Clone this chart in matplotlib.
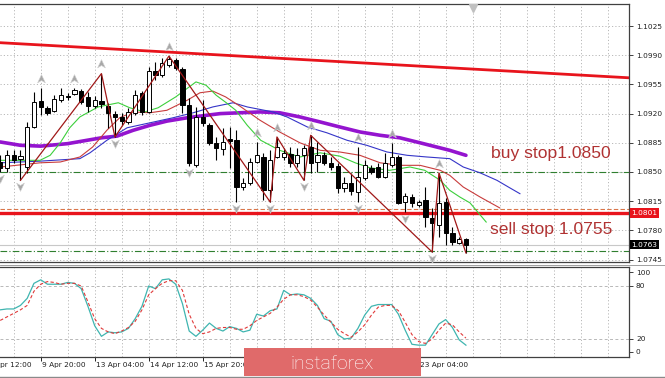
import matplotlib
matplotlib.use("Agg")
import matplotlib.pyplot as plt
import matplotlib.transforms as mtransforms
from matplotlib.patches import Rectangle
from matplotlib.lines import Line2D
from matplotlib.path import Path
import numpy as np

# EURUSD H4 candles, bar index 2..71 (bar 0 = 8 Apr 12:00)
bar_idx = np.arange(2, 72)
opens = np.array([
    1.0862, 1.0855, 1.0870, 1.0866, 1.0856, 1.0904, 1.0935, 1.0927, 1.0923, 1.0936,
    1.0941, 1.0944, 1.0947, 1.0940, 1.0929, 1.0935, 1.0929, 1.0920, 1.0916, 1.0910,
    1.0921, 1.0945, 1.0922, 1.0971, 1.0966, 1.0978, 1.0984, 1.0974, 1.0930, 1.0858,
    1.0916, 1.0906, 1.0885, 1.0878, 1.0890, 1.0888, 1.0832, 1.0837, 1.0862, 1.0868,
    1.0828, 1.0868, 1.0868, 1.0872, 1.0861, 1.0870, 1.0880, 1.0862, 1.0870, 1.0861,
    1.0857, 1.0831, 1.0837, 1.0826, 1.0843, 1.0855, 1.0856, 1.0844, 1.0858, 1.0868,
    1.0814, 1.0820, 1.0810, 1.0816, 1.0795, 1.0787, 1.0814, 1.0777, 1.0765, 1.0770])
highs = np.array([
    1.0870, 1.0876, 1.0876, 1.0876, 1.0910, 1.0946, 1.0951, 1.0929, 1.0942, 1.0951,
    1.0945, 1.0951, 1.0950, 1.0946, 1.0941, 1.0968, 1.0933, 1.0923, 1.0921, 1.0927,
    1.0948, 1.0947, 1.0976, 1.0982, 1.0987, 1.0989, 1.0987, 1.0976, 1.0939, 1.0928,
    1.0936, 1.0909, 1.0892, 1.0903, 1.0904, 1.0900, 1.0843, 1.0867, 1.0886, 1.0873,
    1.0876, 1.0892, 1.0879, 1.0880, 1.0879, 1.0882, 1.0894, 1.0886, 1.0874, 1.0868,
    1.0861, 1.0844, 1.0849, 1.0880, 1.0864, 1.0858, 1.0861, 1.0873, 1.0885, 1.0870,
    1.0825, 1.0824, 1.0816, 1.0832, 1.0807, 1.0849, 1.0819, 1.0784, 1.0772, 1.0771])
lows = np.array([
    1.0850, 1.0850, 1.0861, 1.0840, 1.0849, 1.0903, 1.0918, 1.0918, 1.0922, 1.0934,
    1.0936, 1.0942, 1.0932, 1.0922, 1.0927, 1.0927, 1.0903, 1.0892, 1.0906, 1.0908,
    1.0918, 1.0918, 1.0921, 1.0960, 1.0964, 1.0976, 1.0972, 1.0921, 1.0857, 1.0856,
    1.0905, 1.0882, 1.0864, 1.0870, 1.0855, 1.0814, 1.0828, 1.0834, 1.0861, 1.0816,
    1.0814, 1.0867, 1.0864, 1.0856, 1.0856, 1.0840, 1.0849, 1.0850, 1.0858, 1.0852,
    1.0825, 1.0826, 1.0822, 1.0814, 1.0840, 1.0848, 1.0843, 1.0843, 1.0856, 1.0812,
    1.0802, 1.0808, 1.0808, 1.0784, 1.0754, 1.0772, 1.0763, 1.0763, 1.0764, 1.0753])
closes = np.array([
    1.0855, 1.0870, 1.0864, 1.0869, 1.0904, 1.0934, 1.0928, 1.0921, 1.0938, 1.0942,
    1.0940, 1.0948, 1.0934, 1.0929, 1.0936, 1.0932, 1.0921, 1.0916, 1.0911, 1.0922,
    1.0942, 1.0922, 1.0971, 1.0966, 1.0981, 1.0985, 1.0975, 1.0930, 1.0861, 1.0916,
    1.0909, 1.0885, 1.0879, 1.0886, 1.0887, 1.0832, 1.0837, 1.0862, 1.0870, 1.0828,
    1.0864, 1.0880, 1.0873, 1.0861, 1.0870, 1.0879, 1.0861, 1.0870, 1.0861, 1.0856,
    1.0831, 1.0837, 1.0827, 1.0844, 1.0858, 1.0850, 1.0844, 1.0861, 1.0868, 1.0813,
    1.0821, 1.0813, 1.0814, 1.0796, 1.0789, 1.0813, 1.0777, 1.0766, 1.0770, 1.0763])

# stochastic %K / %D per bar
stoch_k = [53, 54, 54, 58, 66, 83, 87, 82, 82, 82,
           84, 83, 77, 57, 35, 23, 28, 27, 28, 32,
           43, 57, 80, 77, 87, 88, 82, 60, 29, 23,
           30, 38, 32, 29, 34, 32, 28, 30, 48, 46,
           52, 54, 75, 70, 71, 70, 66, 58, 43, 40,
           25, 20, 21, 32, 47, 57, 59, 59, 59, 48,
           30, 14, 13, 13, 25, 37, 42, 33, 19, 13]
stoch_d = [41, 45, 49, 53, 58, 74, 82, 85, 84, 82,
           83, 83, 80, 62, 43, 32, 28, 26, 29, 33,
           40, 53, 70, 77, 83, 86, 86, 75, 48, 32,
           26, 28, 32, 33, 33, 31, 31, 35, 41, 45,
           49, 56, 65, 70, 70, 68, 64, 56, 47, 39,
           31, 26, 22, 28, 36, 47, 56, 58, 58, 52,
           39, 25, 17, 15, 20, 30, 38, 36, 28, 21]

# moving averages (bar index, price)
ma_x = [2, 5, 8, 12, 17, 19.3, 21.7, 24.2, 26.7, 29.7, 32.6, 34.6, 37.5, 40.5,
        43.4, 46.4, 49.4, 52.3, 55.3, 58.3, 61.2, 64.2, 68.6, 71]
ma_y = [1.0886, 1.0882, 1.0881, 1.0884, 1.0891, 1.0893, 1.0900, 1.0906, 1.0911,
        1.0915, 1.0918, 1.0920, 1.0921, 1.0922, 1.0921, 1.0916, 1.0910, 1.0904,
        1.0898, 1.0894, 1.0891, 1.0885, 1.0876, 1.0870]
jaw_x = [2, 7.9, 13.8, 15.3, 17.8, 20.8, 24.2, 27.6, 30.6, 33.5, 36.5, 38.6, 42.4,
         44.5, 47.5, 50.4, 53.4, 56.3, 59.3, 62.3, 65.2, 68.6, 70.6, 73.1, 75.6,
         77.5, 79]
jaw_y = [1.0861, 1.0863, 1.0866, 1.0873, 1.0888, 1.0903, 1.0909, 1.0915, 1.0921,
         1.0928, 1.0933, 1.0928, 1.0922, 1.0916, 1.0904, 1.0897, 1.0888, 1.0882,
         1.0874, 1.0870, 1.0868, 1.0866, 1.0856, 1.0849, 1.0840, 1.0831, 1.0824]
teeth_x = [2, 7.9, 10.9, 13.8, 15.7, 17.8, 19.7, 21.7, 24.2, 26.7, 29.7, 31.6,
           33.5, 35.4, 37.5, 40.5, 43.4, 46.4, 49.4, 52.3, 55.3, 58.3, 61.2, 64.2,
           67.2, 68.6, 70.6, 73.1, 76]
teeth_y = [1.0856, 1.0861, 1.0862, 1.0868, 1.0880, 1.0900, 1.0915, 1.0922, 1.0921,
           1.0924, 1.0936, 1.0945, 1.0947, 1.0940, 1.0929, 1.0912, 1.0898, 1.0885,
           1.0876, 1.0874, 1.0870, 1.0861, 1.0858, 1.0858, 1.0852, 1.0846, 1.0832,
           1.0820, 1.0807]
lips_x = [2, 7.9, 9.4, 10.9, 12.3, 13.8, 16.5, 19.5, 21.2, 23.4, 25.4, 28, 31,
          32.5, 34, 35.5, 36.9, 38.6, 40.6, 43.4, 46.4, 49.4, 52.3, 54.6, 56.8,
          59.7, 62.7, 64.9, 67.2, 68.6, 70.1, 71.6, 74]
lips_y = [1.0864, 1.0864, 1.0870, 1.0885, 1.0903, 1.0916, 1.0928, 1.0933, 1.0927,
          1.0922, 1.0927, 1.0940, 1.0958, 1.0954, 1.0942, 1.0933, 1.0924, 1.0906,
          1.0888, 1.0876, 1.0868, 1.0873, 1.0869, 1.0861, 1.0855, 1.0852, 1.0856,
          1.0852, 1.0840, 1.0828, 1.0820, 1.0813, 1.0790]

# zigzag turning bars (low, high, low, ...) and fractals
zz_bars = [5, 17, 19, 27, 42, 43, 47, 48, 66, 67, 71]
fractal_up = [8, 13, 17, 27, 40, 43, 48, 55, 60, 67]
fractal_dn = [2, 5, 19, 30, 37, 42, 47, 55, 62, 66]

trend_x = [2, 95]
trend_y = [1.1005, 1.0963]
buy_stop = 1.0850
sell_stop = 1.0755
level_red = 1.0801
level_dash = 1.0806
bid = 1.0763

price_ticks = [1.0745, 1.0780, 1.0815, 1.0850, 1.0885, 1.0920, 1.0955, 1.0990, 1.1025]
date_pos = [0, 8, 16, 24, 32, 40, 48, 56, 64]
date_labels = ["8 Apr 12:00", "9 Apr 20:00", "13 Apr 04:00", "14 Apr 12:00",
               "15 Apr 20:00", "17 Apr 04:00", "20 Apr 12:00", "21 Apr 20:00",
               "23 Apr 04:00"]
# labels fully covered by the watermark in the screenshot
hidden_labels = {"17 Apr 04:00", "20 Apr 12:00", "21 Apr 20:00"}

W, H = 665, 378
fig = plt.figure(figsize=(W / 100, H / 100), dpi=100)
ax = fig.add_axes([0, 1 - 262 / H, 629 / W, 258 / H])
ax2 = fig.add_axes([0, 1 - 357 / H, 629 / W, 90 / H])
xlim = (1.97, 95.16)
grid_pos = np.arange(0, 96, 4)
grid_kw = dict(color="#b8b8b8", lw=0.7, ls=(0, (1.2, 2.2)))

# ---- main panel
for p in price_ticks:
    ax.axhline(p, zorder=0, **grid_kw)
for g in grid_pos:
    ax.axvline(g, zorder=0, **grid_kw)

ax.plot(trend_x, trend_y, color="#e8141c", lw=2.0, zorder=2)
ax.axhline(level_dash, color="#d9764a", lw=0.8, ls=(0, (4, 2)), zorder=2)
ax.axhline(level_red, color="#e8141c", lw=2.4, zorder=2)
for lv in (buy_stop, sell_stop):
    ax.axhline(lv, color="#2f7f2f", lw=0.8, ls=(0, (6, 2, 1, 2)), zorder=2)
ax.axhline(bid, color="#c8c8c8", lw=0.8, zorder=2)

ax.plot(ma_x, ma_y, color="#9414cf", lw=2.6, solid_capstyle="round", zorder=3)
ax.plot(jaw_x, jaw_y, color="#3535c8", lw=0.8, zorder=3)
ax.plot(teeth_x, teeth_y, color="#c83c3c", lw=0.8, zorder=3)
ax.plot(lips_x, lips_y, color="#3ccf3c", lw=0.8, zorder=3)

up = closes >= opens
body_lo = np.minimum(opens, closes)
body_h = np.maximum(np.abs(closes - opens), 0.00004)
ax.vlines(bar_idx, lows, highs, color="black", lw=0.8, zorder=4)
ax.bar(bar_idx, body_h, bottom=body_lo, width=0.62,
       color=np.where(up, "white", "black"), edgecolor="black", linewidth=0.7, zorder=5)

zz_y = [lows[b - 2] if k % 2 == 0 else highs[b - 2] for k, b in enumerate(zz_bars)]
ax.plot(zz_bars, zz_y, color="#a01818", lw=0.9, zorder=6)

arrow_up = Path([(0, 1), (0.8, -0.7), (0, -0.2), (-0.8, -0.7), (0, 1)],
                [Path.MOVETO, Path.LINETO, Path.LINETO, Path.LINETO, Path.CLOSEPOLY])
arrow_dn = Path([(0, -1), (0.8, 0.7), (0, 0.2), (-0.8, 0.7), (0, -1)],
                [Path.MOVETO, Path.LINETO, Path.LINETO, Path.LINETO, Path.CLOSEPOLY])
fu = np.array(fractal_up)
fd = np.array(fractal_dn)
ax.plot(fu, highs[fu - 2] + 0.0011, ls="none", marker=arrow_up, ms=7,
        mfc="#a8a8a8", mec="#d0d0d0", mew=0.4, zorder=6)
ax.plot(fd, lows[fd - 2] - 0.0007, ls="none", marker=arrow_dn, ms=7,
        mfc="#a8a8a8", mec="#d0d0d0", mew=0.4, zorder=6)
# chart shift marker
ax.plot([72], [0.985], transform=mtransforms.blended_transform_factory(ax.transData, ax.transAxes),
        ls="none", marker="v", ms=6, color="#c0c0c0", zorder=6)

ax.text(74.7, 1.0867, "buy stop1.0850", color="#b03232", fontsize=12.6,
        family="Liberation Sans", va="baseline", ha="left", zorder=7)
ax.text(74.6, 1.0776, "sell stop 1.0755", color="#b03232", fontsize=12.6,
        family="Liberation Sans", va="baseline", ha="left", zorder=7)

ax.yaxis.tick_right()
ax.set_yticks(price_ticks)
ax.set_yticklabels([f"{p:.4f}" for p in price_ticks])
ax.tick_params(axis="y", length=3, width=0.6, labelsize=5.3, pad=2, colors="#202020")
ax.set_xticks([])
ax.set_xlim(*xlim)
ax.set_ylim(1.07421, 1.10514)
for s in ax.spines.values():
    s.set_color("#404040")
    s.set_linewidth(0.9)
ax.spines["left"].set_visible(False)

yt = mtransforms.blended_transform_factory(ax.transAxes, ax.transData)
ax.text(1.004, level_red, "1.0801", transform=yt, fontsize=5.3, color="white",
        va="center", ha="left", bbox=dict(fc="#e8141c", ec="none", pad=1.2), zorder=8)
ax.text(1.004, bid, "1.0763", transform=yt, fontsize=5.3, color="white",
        va="center", ha="left", bbox=dict(fc="black", ec="none", pad=1.2), zorder=8)

# ---- stochastic panel
for g in grid_pos:
    ax2.axvline(g, zorder=0, **grid_kw)
for lv in (20, 80):
    ax2.axhline(lv, color="#b8b8b8", lw=0.7, ls=(0, (3, 2.5)), zorder=0)
ax2.plot(bar_idx, stoch_k, color="#3fb5b0", lw=0.9, zorder=3)
ax2.plot(bar_idx, stoch_d, color="#e03a3a", lw=0.8, ls=(0, (3, 2)), zorder=3)

ax2.yaxis.tick_right()
ax2.set_yticks([5.3, 20, 80, 95.8])
ax2.set_yticklabels(["0", "20", "80", "100"])
ax2.tick_params(axis="y", length=3, width=0.6, labelsize=5.3, pad=2, colors="#202020")
ax2.set_xticks(date_pos)
ax2.set_xticklabels([])
ax2.tick_params(axis="x", length=3, width=0.6, direction="out")
# set limits after the ticks, set_xticks would widen the view otherwise
ax2.set_xlim(*xlim)
ax2.set_ylim(-0.4, 101.5)
xt = mtransforms.blended_transform_factory(ax2.transData, ax2.transAxes)
for pos, lab in zip(date_pos, date_labels):
    if lab in hidden_labels:
        continue
    ax2.text(pos + 0.15, -0.06, lab, transform=xt, fontsize=5.3, va="top", ha="left",
             color="#202020", clip_on=False)
for s in ax2.spines.values():
    s.set_color("#404040")
    s.set_linewidth(0.9)
ax2.spines["left"].set_visible(False)

# window frame bottom and watermark
fig.add_artist(Line2D([0, 1], [1 - 376.5 / H] * 2, color="#8a8a8a", lw=1.0))
fig.add_artist(Line2D([0, 1], [1 - 264.5 / H] * 2, color="#909090", lw=0.6))
fig.patches.append(Rectangle((244 / W, 1 - 376 / H), 177 / W, 28 / H,
                             transform=fig.transFigure, fc="#e06a6a", ec="none", zorder=5))
fig.text(332 / W, 1 - 369 / H, "instaforex", color="white", fontsize=14,
         family="Roboto", fontweight="light", ha="center", va="baseline", zorder=6)

fig.savefig("out.png", dpi=100)
